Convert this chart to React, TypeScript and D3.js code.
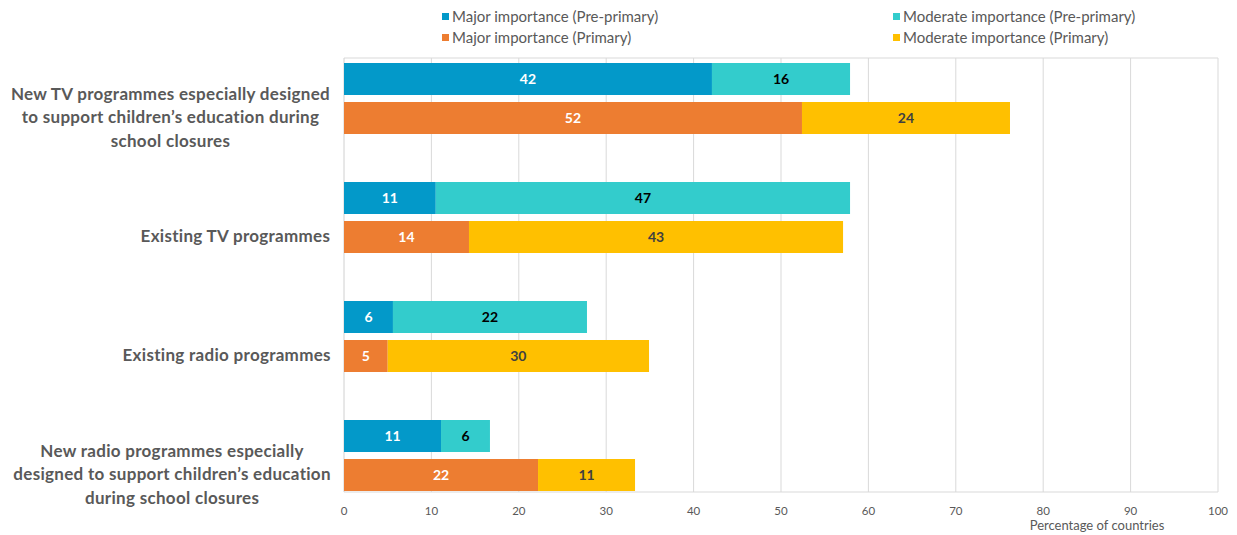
import React from "react";
import * as d3 from "d3";

const categories = [
  "New TV programmes especially designed to support children’s education during school closures",
  "Existing TV programmes",
  "Existing radio programmes",
  "New radio programmes especially designed to support children’s education during school closures",
];
const categoryLines = [
  ["New TV programmes especially designed", "to support children’s education during", "school closures"],
  ["Existing TV programmes"],
  ["Existing radio programmes"],
  ["New radio programmes especially", "designed to support children’s education", "during school closures"],
];
const majorPre = [42.1, 10.5, 5.6, 11.1];
const moderatePre = [15.8, 47.4, 22.2, 5.6];
const majorPrim = [52.4, 14.3, 5.0, 22.2];
const moderatePrim = [23.8, 42.8, 29.9, 11.1];
const seriesNames = [
  "Major importance (Pre-primary)",
  "Moderate importance (Pre-primary)",
  "Major importance (Primary)",
  "Moderate importance (Primary)",
];
const seriesColors = ["#0399C9", "#33CCCC", "#ED7D31", "#FFC000"];
const labelColors = ["#FFFFFF", "#000000", "#FFFFFF", "#404040"];
const xTicks = [0, 10, 20, 30, 40, 50, 60, 70, 80, 90, 100];
const xTitle = "Percentage of countries";

const FONT = "Lato, 'Open Sans', sans-serif";

let ctx: CanvasRenderingContext2D | null = null;
function measure(text: string, font: string, spacing: number): number {
  if (!ctx) ctx = document.createElement("canvas").getContext("2d");
  if (!ctx) return text.length * 8;
  ctx.font = font;
  return ctx.measureText(text).width + spacing * text.length;
}

export default function App() {
  const W = 1237;
  const H = 535;
  const x0 = 344;
  const x1 = 1218;
  const plotTop = 58;
  const plotBottom = 492;

  const x = d3.scaleLinear().domain([0, 100]).range([x0, x1]);
  const y = d3.scaleBand<number>().domain(d3.range(categories.length)).range([58, 534]).padding(0);
  const barH = 32;
  const preOffset = 5;
  const primOffset = 44;

  const rows = categories.map((_, i) => [
    { start: 0, val: majorPre[i], s: 0, off: preOffset },
    { start: majorPre[i], val: moderatePre[i], s: 1, off: preOffset },
    { start: 0, val: majorPrim[i], s: 2, off: primOffset },
    { start: majorPrim[i], val: moderatePrim[i], s: 3, off: primOffset },
  ]);

  const catSize = 17;
  const catSpacing = 0.3;
  const catFont = `bold ${catSize}px Lato`;
  const lineH = 23.5;

  return (
    <svg width={W} height={H} style={{ position: "absolute", left: 0, top: 0, background: "#fff" }}>
      {/* gridlines */}
      {xTicks.slice(1).map((t) => (
        <line key={t} x1={x(t)} x2={x(t)} y1={plotTop} y2={plotBottom} stroke="#D9D9D9" strokeWidth={1} />
      ))}
      <line x1={x0} x2={x1} y1={plotTop} y2={plotTop} stroke="#D9D9D9" strokeWidth={1} />
      <line x1={x0} x2={x1} y1={plotBottom} y2={plotBottom} stroke="#D9D9D9" strokeWidth={1} />
      <line x1={x0} x2={x0} y1={plotTop} y2={plotBottom} stroke="#D0D0D0" strokeWidth={1} />

      {/* bars */}
      {rows.map((segs, i) =>
        segs.map((sg, k) => (
          <g key={`${i}-${k}`}>
            <rect
              x={x(sg.start)}
              y={(y(i) as number) + sg.off}
              width={x(sg.start + sg.val) - x(sg.start)}
              height={barH}
              fill={seriesColors[sg.s]}
            />
            <text
              x={(x(sg.start) + x(sg.start + sg.val)) / 2}
              y={(y(i) as number) + sg.off + barH / 2}
              dy="0.35em"
              textAnchor="middle"
              fontFamily={FONT}
              fontWeight="bold"
              fontSize={14}
              fill={labelColors[sg.s]}
            >
              {Math.round(sg.val)}
            </text>
          </g>
        ))
      )}

      {/* category labels */}
      {categoryLines.map((lines, i) => {
        const maxW = Math.max(...lines.map((l) => measure(l, catFont, catSpacing)));
        const cx = 331 - maxW / 2;
        const cy = (y(i) as number) + y.bandwidth() / 2;
        const startY = cy - ((lines.length - 1) * lineH) / 2;
        return (
          <text
            key={i}
            textAnchor="middle"
            fontFamily={FONT}
            fontWeight="bold"
            fontSize={catSize}
            letterSpacing={catSpacing}
            fill="#595959"
          >
            {lines.map((l, j) => (
              <tspan key={j} x={cx} y={startY + j * lineH} dy="0.35em">
                {l}
              </tspan>
            ))}
          </text>
        );
      })}

      {/* x tick labels */}
      {xTicks.map((t) => (
        <text key={t} x={x(t)} y={511} dy="0.35em" textAnchor="middle" fontFamily={FONT} fontSize={11.5} fill="#595959">
          {t}
        </text>
      ))}
      <text x={1097} y={525} dy="0.35em" textAnchor="middle" fontFamily={FONT} fontSize={13} fill="#595959">
        {xTitle}
      </text>

      {/* legend */}
      {seriesNames.map((name, i) => {
        const col = i % 2;
        const row = Math.floor(i / 2);
        const lx = col === 0 ? 442 : 893;
        const ly = row === 0 ? 16.5 : 37.5;
        return (
          <g key={name}>
            <rect x={lx} y={ly - 3.5} width={7} height={7} fill={seriesColors[i]} />
            <text x={lx + 10} y={ly} dy="0.35em" fontFamily={FONT} fontSize={15} fill="#595959">
              {name}
            </text>
          </g>
        );
      })}
    </svg>
  );
}
